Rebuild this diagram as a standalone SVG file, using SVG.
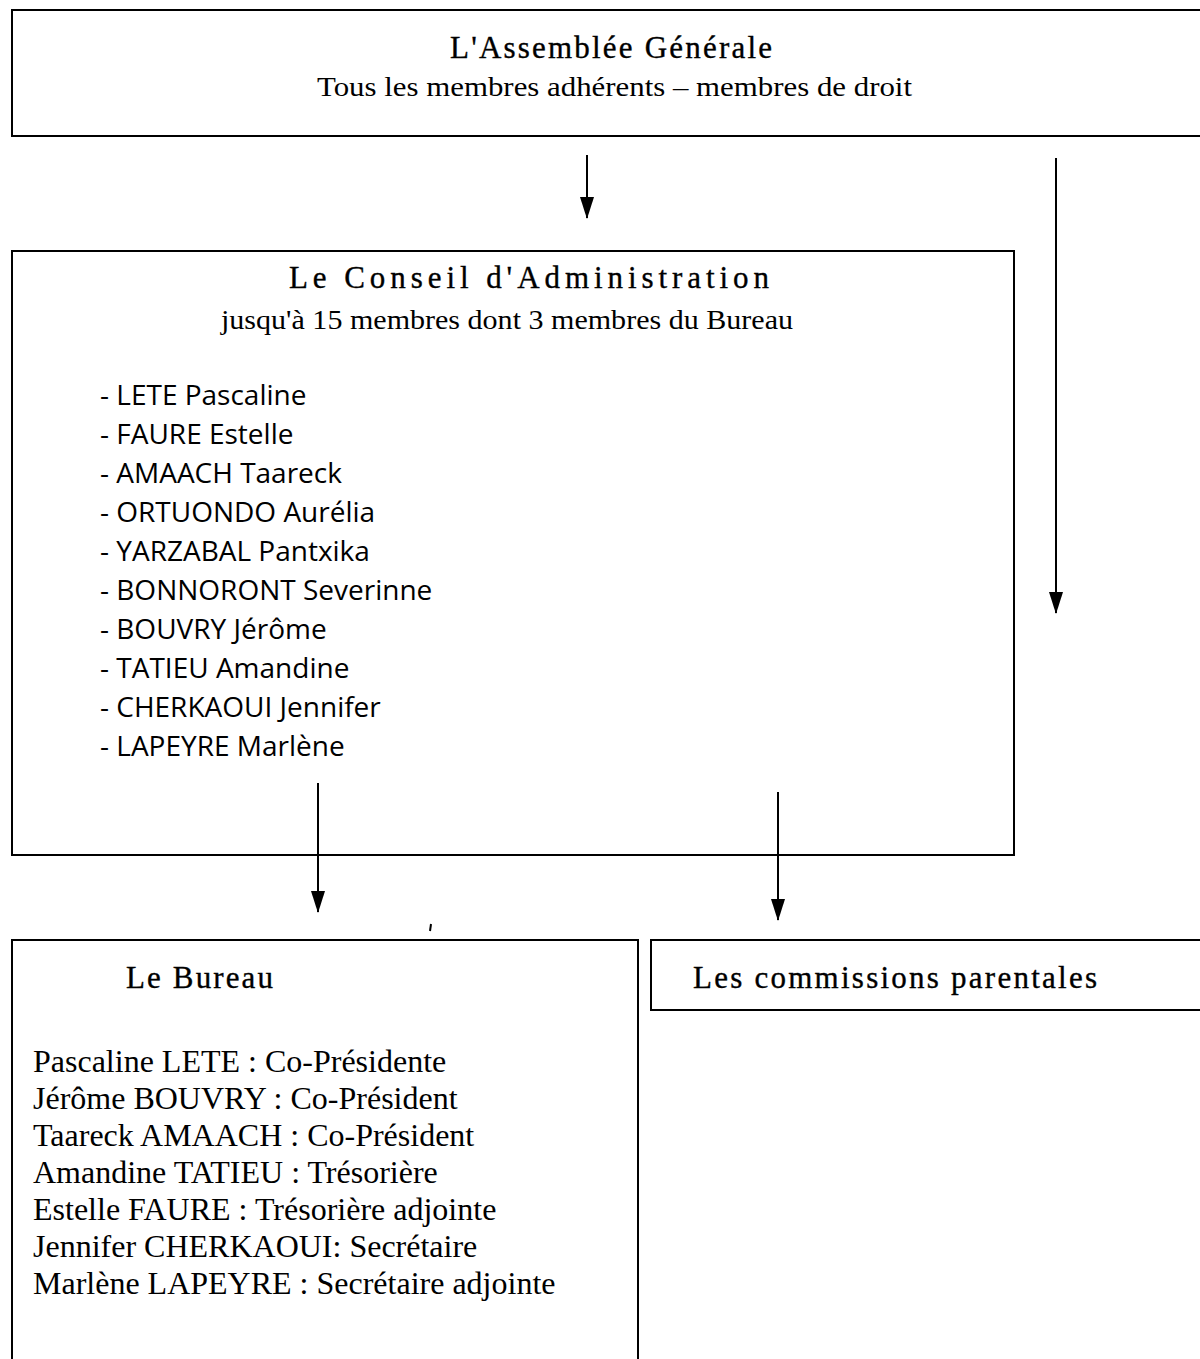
<svg xmlns="http://www.w3.org/2000/svg" width="1200" height="1359" viewBox="0 0 1200 1359">
<defs>
<style>
.box{fill:#fff;stroke:#000;stroke-width:2}
.ttl{font-family:"Liberation Serif",serif;font-size:31px;fill:#000;stroke:#000;stroke-width:0.35}
.sub{font-family:"Liberation Serif",serif;font-size:28px;fill:#000}
.lst{font-family:"Open Sans","Liberation Sans",sans-serif;font-size:28px;fill:#000}
.bur{font-family:"Liberation Serif",serif;font-size:32px;fill:#000}
.con{stroke:#000;stroke-width:2;fill:none}
</style>
<marker id="ah" markerWidth="22" markerHeight="14" refX="21" refY="7" orient="auto" markerUnits="userSpaceOnUse" viewBox="0 0 22 14">
<path d="M0,0 L22,7 L0,14 Z" fill="#000"/>
</marker>
</defs>
<rect width="1200" height="1359" fill="#fff"/>
<g id="assemblee">
<rect class="box" x="12" y="10" width="1200" height="126"/>
<text class="ttl" x="450" y="58" textLength="322" lengthAdjust="spacing">L'Assemblée Générale</text>
<text class="sub" x="317" y="96" textLength="595" lengthAdjust="spacingAndGlyphs">Tous les membres adhérents – membres de droit</text>
</g>
<g id="conseil">
<rect class="box" x="12" y="251" width="1002" height="604"/>
<text class="ttl" x="289" y="288" font-size="33" textLength="480" lengthAdjust="spacing">Le Conseil d'Administration</text>
<text class="sub" x="221" y="329" textLength="572" lengthAdjust="spacingAndGlyphs">jusqu'à 15 membres dont 3 membres du Bureau</text>
<text class="lst" x="100" y="405">- LETE Pascaline</text>
<text class="lst" x="100" y="444">- FAURE Estelle</text>
<text class="lst" x="100" y="483">- AMAACH Taareck</text>
<text class="lst" x="100" y="522">- ORTUONDO Aurélia</text>
<text class="lst" x="100" y="561">- YARZABAL Pantxika</text>
<text class="lst" x="100" y="600">- BONNORONT Severinne</text>
<text class="lst" x="100" y="639">- BOUVRY Jérôme</text>
<text class="lst" x="100" y="678">- TATIEU Amandine</text>
<text class="lst" x="100" y="717">- CHERKAOUI Jennifer</text>
<text class="lst" x="100" y="756">- LAPEYRE Marlène</text>
</g>
<g id="bureau">
<rect class="box" x="12" y="940" width="626" height="430"/>
<text class="ttl" x="126" y="988" textLength="147" lengthAdjust="spacing">Le Bureau</text>
<text class="bur" x="33" y="1072">Pascaline LETE : Co-Présidente</text>
<text class="bur" x="33" y="1109">Jérôme BOUVRY : Co-Président</text>
<text class="bur" x="33" y="1146">Taareck AMAACH : Co-Président</text>
<text class="bur" x="33" y="1183">Amandine TATIEU : Trésorière</text>
<text class="bur" x="33" y="1220">Estelle FAURE : Trésorière adjointe</text>
<text class="bur" x="33" y="1257">Jennifer CHERKAOUI: Secrétaire</text>
<text class="bur" x="33" y="1294">Marlène LAPEYRE : Secrétaire adjointe</text>
</g>
<g id="commissions">
<rect class="box" x="651" y="940" width="600" height="70"/>
<text class="ttl" x="693" y="988" textLength="404" lengthAdjust="spacing">Les commissions parentales</text>
</g>
<g id="connectors">
<line class="con" x1="587" y1="155" x2="587" y2="218" marker-end="url(#ah)"/>
<line class="con" x1="1056" y1="158" x2="1056" y2="613" marker-end="url(#ah)"/>
<line class="con" x1="318" y1="783" x2="318" y2="912" marker-end="url(#ah)"/>
<line class="con" x1="778" y1="792" x2="778" y2="920" marker-end="url(#ah)"/>
<line class="con" x1="431" y1="924" x2="430" y2="931" stroke-width="1.5"/>
</g>
</svg>
